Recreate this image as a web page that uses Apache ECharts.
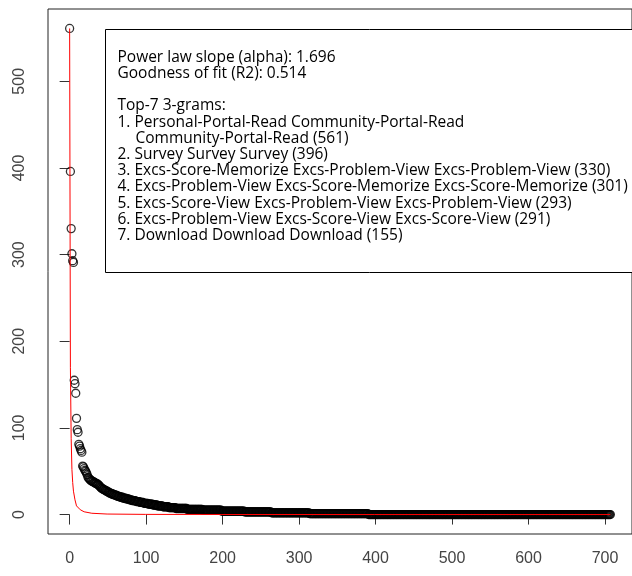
<!DOCTYPE html>
<html>
<head>
<meta charset="utf-8">
<script src="https://cdn.jsdelivr.net/npm/echarts@6/dist/echarts.min.js"></script>
<style>
html,body{margin:0;padding:0;background:#fff;}
#chart{width:632px;height:576px;}
</style>
</head>
<body>
<div id="chart"></div>
<script>
// ---- data ----
// frequencies of the first ranks (index 0 .. 51)
const headValues = [561, 396, 330, 301, 293, 291, 155, 151, 140, 111, 98, 95, 81, 79, 76, 74, 72,
  56, 55, 53, 51, 50, 48, 46, 43, 42, 41, 40, 39, 39, 38, 38, 37, 37, 36, 36, 35, 35, 34, 33, 32, 31,
  30, 30, 29, 29, 28, 28, 27, 27, 26, 26];
// remaining ranks as runs of equal frequency (value, how many ranks)
const runValues = [25, 24, 23, 22, 21, 20, 19, 18, 17, 16, 15, 14, 13, 12, 11, 10, 9, 8, 7, 6, 5, 4, 3, 2, 1, 0];
const runCounts = [2, 3, 3, 3, 3, 4, 4, 4, 4, 5, 5, 5, 6, 6, 6, 7, 8, 9, 15, 20, 25, 30, 35, 50, 77, 317];
// fitted power-law curve (red)
const fitX = [0, 1, 2, 3, 4, 5, 7, 9, 14, 19, 29, 49, 99, 199, 399, 707];
const fitY = [561, 170, 88, 52, 37, 27, 17, 10, 5.5, 3.2, 1.5, 0.6, 0.2, 0.07, 0.02, 0.01];
const xTicks = [0, 100, 200, 300, 400, 500, 600, 700];
const yTicks = [0, 100, 200, 300, 400, 500];
const legendLines = [
  "Power law slope (alpha): 1.696",
  "Goodness of fit (R2): 0.514",
  "",
  "Top-7 3-grams:",
  "1. Personal-Portal-Read Community-Portal-Read",
  "   Community-Portal-Read (561)",
  "2. Survey Survey Survey (396)",
  "3. Excs-Score-Memorize Excs-Problem-View Excs-Problem-View (330)",
  "4. Excs-Problem-View Excs-Score-Memorize Excs-Score-Memorize (301)",
  "5. Excs-Score-View Excs-Problem-View Excs-Problem-View (293)",
  "6. Excs-Problem-View Excs-Score-View Excs-Score-View (291)",
  "7. Download Download Download (155)"
];

// ---- build ----
const values = headValues.slice();
runValues.forEach((v, k) => { for (let j = 0; j < runCounts[k]; j++) values.push(v); });
const pts = values.map((v, i) => [i, v]);
const fitPts = fitX.map((x, i) => [x, fitY[i]]);

const n = values.length;
const xr = (n - 1);
const xMin = -0.04 * xr, xMax = (n - 1) + 0.04 * xr;
const yMaxV = Math.max(...values), yMinV = Math.min(...values);
const yr = yMaxV - yMinV;
const yMin = yMinV - 0.04 * yr, yMax = yMaxV + 0.04 * yr;

const legendFont = '"Open Sans"';
const legendElems = [{
  type: 'rect',
  shape: { x: 105.5, y: 29.5, width: 560, height: 243 },
  style: { fill: '#fff', stroke: '#000', lineWidth: 1 },
  z: 10
}];
legendLines.forEach((t, k) => {
  if (!t) return;
  const indent = /^\s+/.test(t);
  legendElems.push({
    type: 'text',
    x: indent ? 135.5 : 117.5,
    y: 57.3 + 16.2 * k,
    style: { text: t.trim(), fill: '#000', font: '15.5px ' + legendFont, verticalAlign: 'middle', align: 'left' },
    z: 11
  });
});

const chart = echarts.init(document.getElementById('chart'), null, { renderer: 'canvas' });
chart.setOption({
  animation: false,
  backgroundColor: '#fff',
  grid: { left: 48, right: -3, top: 9, bottom: 42, show: true, borderColor: '#222', borderWidth: 1, backgroundColor: 'transparent' },
  xAxis: {
    type: 'value', min: xMin, max: xMax,
    splitLine: { show: false },
    axisLine: { show: false },
    axisTick: { show: true, length: 10, lineStyle: { color: '#333' }, customValues: xTicks },
    axisLabel: { customValues: xTicks, margin: 17, color: '#444', fontFamily: 'Liberation Sans', fontSize: 16 }
  },
  yAxis: {
    type: 'value', min: yMin, max: yMax,
    splitLine: { show: false },
    axisLine: { show: false },
    axisTick: { show: true, length: 10, lineStyle: { color: '#333' }, customValues: yTicks },
    axisLabel: { customValues: yTicks, rotate: 90, margin: 20, color: '#444', fontFamily: 'Liberation Sans', fontSize: 16 }
  },
  series: [
    {
      type: 'scatter', data: pts, symbol: 'circle', symbolSize: 8,
      itemStyle: { color: 'rgba(0,0,0,0)', borderColor: '#000', borderWidth: 1.3 },
      z: 2
    },
    {
      type: 'line', data: fitPts, showSymbol: false, smooth: false,
      lineStyle: { color: '#ff0000', width: 1 },
      z: 3
    }
  ],
  graphic: { elements: legendElems }
});
</script>
</body>
</html>
